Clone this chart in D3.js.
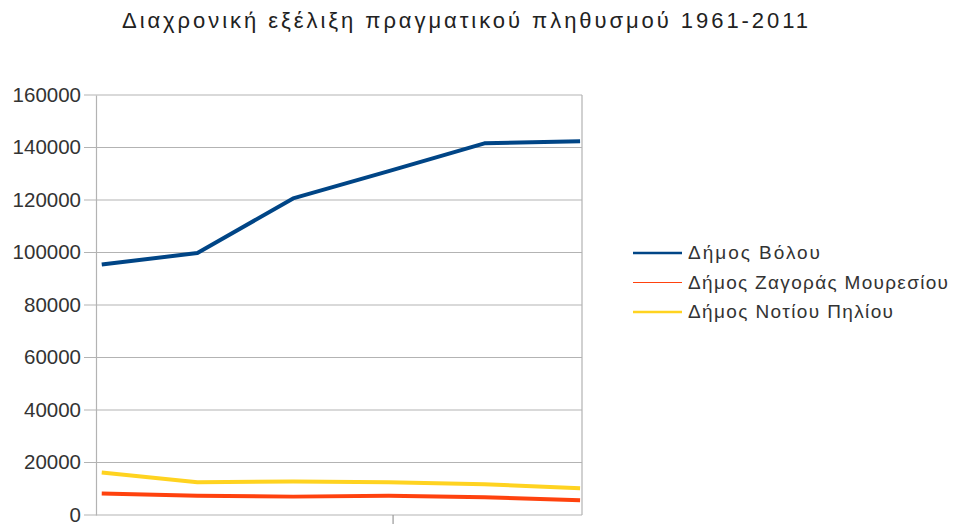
<!DOCTYPE html>
<html>
<head>
<meta charset="utf-8">
<script src="https://cdn.jsdelivr.net/npm/d3@7.9.0/dist/d3.min.js"></script>
<style>
  body { margin: 0; background: #fff; }
  svg { display: block; font-family: "Liberation Sans", Arial, sans-serif; }
</style>
</head>
<body>
<svg id="chart" width="954" height="524"></svg>
<script>
// data
const years = [1961, 1971, 1981, 1991, 2001, 2011];
const volos = [95400, 99800, 120600, 131000, 141600, 142400];
const zagora = [8200, 7300, 7000, 7300, 6800, 5600];
const notioPilio = [16200, 12500, 12800, 12500, 11700, 10200];
const seriesNames = ["Δήμος Βόλου", "Δήμος Ζαγοράς Μουρεσίου", "Δήμος Νοτίου Πηλίου"];
const seriesColors = ["#004586", "#ff420e", "#ffd320"];
const yTicks = [0, 20000, 40000, 60000, 80000, 100000, 120000, 140000, 160000];
const xTicks = [1991.4];
const title = "Διαχρονική εξέλιξη πραγματικού πληθυσμού 1961-2011";

const series = [volos, zagora, notioPilio];

const svg = d3.select("#chart");
const plotLeft = 96, plotRight = 582, plotTop = 95, plotBottom = 515;

const x = d3.scaleLinear().domain([1960.4, 2011.2]).range([plotLeft, plotRight]);
const y = d3.scaleLinear().domain([0, 160000]).range([plotBottom, plotTop]);

// title
svg.append("text")
  .attr("x", 122).attr("y", 28)
  .attr("font-size", 22)
  .attr("fill", "#222")
  .attr("textLength", 686)
  .attr("lengthAdjust", "spacing")
  .text(title);

// gridlines
svg.append("g")
  .selectAll("line")
  .data(yTicks)
  .join("line")
  .attr("x1", plotLeft - 12).attr("x2", plotRight)
  .attr("y1", d => y(d)).attr("y2", d => y(d))
  .attr("stroke", "#b3b3b3").attr("stroke-width", 1.2);

// y axis
svg.append("g")
  .attr("transform", `translate(${plotLeft},0)`)
  .call(d3.axisLeft(y).tickValues(yTicks).tickSize(0).tickPadding(15).tickFormat(d3.format("d")))
  .call(g => g.select(".domain").attr("stroke", "#b3b3b3").attr("stroke-width", 1.2))
  .call(g => g.selectAll("text")
    .attr("font-size", 20.5)
    .attr("fill", "#333")
    .attr("dy", "0.3em")
    .attr("font-family", "Liberation Sans, Arial, sans-serif"));

// right border
svg.append("line")
  .attr("x1", plotRight).attr("x2", plotRight)
  .attr("y1", plotTop).attr("y2", plotBottom)
  .attr("stroke", "#b3b3b3").attr("stroke-width", 1.2);

// x axis ticks (no labels)
svg.append("g")
  .attr("transform", `translate(0,${plotBottom})`)
  .call(d3.axisBottom(x).tickValues(xTicks).tickSize(10).tickFormat(""))
  .call(g => g.select(".domain").remove())
  .call(g => g.selectAll("line").attr("stroke", "#999").attr("stroke-width", 1.2));

// lines
const line = d3.line()
  .x((d, i) => x(years[i]))
  .y(d => y(d));

svg.append("g")
  .selectAll("path")
  .data(series)
  .join("path")
  .attr("d", d => line(d))
  .attr("fill", "none")
  .attr("stroke", (d, i) => seriesColors[i])
  .attr("stroke-width", 4)
  .attr("stroke-linejoin", "round");

// legend
const legend = svg.append("g");
const legendTextWidths = [132, 260, 205];
seriesNames.forEach((name, i) => {
  const ly = 253 + i * 29.5;
  legend.append("line")
    .attr("x1", 633).attr("x2", 682)
    .attr("y1", ly).attr("y2", ly)
    .attr("stroke", seriesColors[i])
    .attr("stroke-width", i === 1 ? 1.2 : 2.4);
  legend.append("text")
    .attr("x", 688).attr("y", ly + 6)
    .attr("font-size", 19)
    .attr("fill", "#333")
    .attr("textLength", legendTextWidths[i])
    .attr("lengthAdjust", "spacing")
    .text(name);
});
</script>
</body>
</html>
